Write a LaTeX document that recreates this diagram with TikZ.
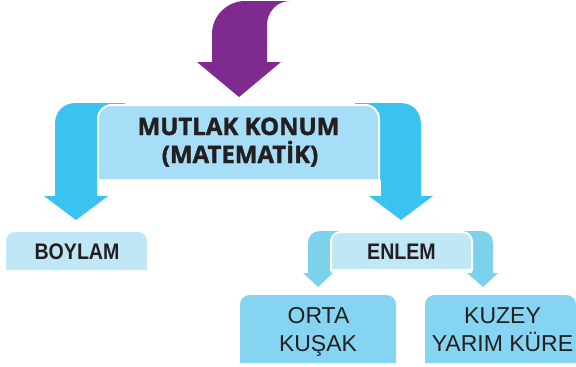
\documentclass[tikz,border=0pt]{standalone}
\usepackage{fontspec}
\setmainfont{Liberation Sans}
\newfontfamily\headfont[BoldFeatures={FakeBold=1.6}]{Open Sans}
\definecolor{purp}{HTML}{7F2A8E}
\definecolor{bigblue}{HTML}{3AC3F0}
\definecolor{mainbox}{HTML}{A6DEF7}
\definecolor{subbox}{HTML}{C0E7F6}
\definecolor{smallblue}{HTML}{7BD2EA}
\definecolor{leafbox}{HTML}{85D4F1}
\definecolor{ink}{HTML}{231F20}
\tikzset{
  headtext/.style={anchor=base, text=ink, inner sep=0pt, font=\headfont\bfseries\fontsize{24}{28}\selectfont},
  subtext/.style={anchor=base, text=ink, inner sep=0pt, font=\bfseries\fontsize{22.5}{26}\selectfont},
  leaftext/.style={anchor=base, text=ink, inner sep=0pt, font=\fontsize{23}{28}\selectfont},
  whiteedge/.style={draw=white, line width=2pt},
}
\begin{document}
\begin{tikzpicture}[x=1pt,y=-1pt]
\useasboundingbox (0,0) rectangle (576,367);
% purple arrow
\fill[purp] (239,97) -- (281,62) -- (267,62) -- (267,25)
  .. controls (267,12) and (277,1) .. (290,1) -- (245,1)
  .. controls (227,1) and (212,16) .. (212,34) -- (212,62) -- (197,62) -- cycle;
% big blue arrows
\fill[bigblue] (76,220) -- (44,196) -- (55,196) -- (55,124)
  .. controls (55,112) and (63,103) .. (76,103) -- (125,103) -- (125,180)
  -- (97,180) -- (97,196) -- (108,196) -- cycle;
\fill[bigblue] (401,220) -- (433,196) -- (421,196) -- (421,124)
  .. controls (421,112) and (413,103) .. (400,103) -- (355,103) -- (355,180)
  -- (381,180) -- (381,196) -- (369,196) -- cycle;
% main box
\path[fill=mainbox, whiteedge] (98,180) -- (98,119) .. controls (98,111) and (104,105) .. (112,105)
  -- (365,105) .. controls (373,105) and (379,111) .. (379,119) -- (379,180) -- cycle;
% small arrows
\fill[smallblue] (318,287) -- (303,273) -- (308,273) -- (308,243)
  .. controls (308,236) and (313,231) .. (320,231) -- (345,231) -- (345,270)
  -- (331,270) -- (331,273) -- (333,273) -- cycle;
\fill[smallblue] (483,287) -- (498,273) -- (493,273) -- (493,243)
  .. controls (493,236) and (488,231) .. (481,231) -- (455,231) -- (455,270)
  -- (472,270) -- (472,273) -- (467,273) -- cycle;
% BOYLAM box
\fill[subbox] (6,270) -- (6,241) .. controls (6,236) and (10,232) .. (15,232)
  -- (138,232) .. controls (143,232) and (147,236) .. (147,241) -- (147,270) -- cycle;
% ENLEM box
\path[fill=subbox, whiteedge] (331,270) -- (331,242) .. controls (331,236) and (335,232) .. (341,232)
  -- (462,232) .. controls (468,232) and (472,236) .. (472,242) -- (472,270) -- cycle;
% leaf boxes
\fill[leafbox] (240,363) -- (240,305) .. controls (240,299) and (244,295) .. (250,295)
  -- (386,295) .. controls (392,295) and (396,299) .. (396,305) -- (396,363) -- cycle;
\fill[leafbox] (425,363) -- (425,305) .. controls (425,299) and (429,295) .. (435,295)
  -- (566,295) .. controls (572,295) and (576,299) .. (576,305) -- (576,363) -- cycle;
% texts
\node[headtext] (h1) at (238.5,135) {MUTLAK KONUM};
\node[headtext] (h2) at (240,163) {(MATEMATİK)};
\node[subtext] (boylam) at (77,259) {\scalebox{0.87}[1]{BOYLAM}};
\node[subtext] (enlem) at (401.5,259) {\scalebox{0.87}[1]{ENLEM}};
\node[leaftext] (o1) at (318.5,323) {ORTA};
\node[leaftext] (o2) at (318,351.5) {KUŞAK};
\node[leaftext] (k1) at (502.5,323) {KUZEY};
\node[leaftext] (k2) at (502.5,351.5) {YARIM KÜRE};
\end{tikzpicture}
\end{document}
